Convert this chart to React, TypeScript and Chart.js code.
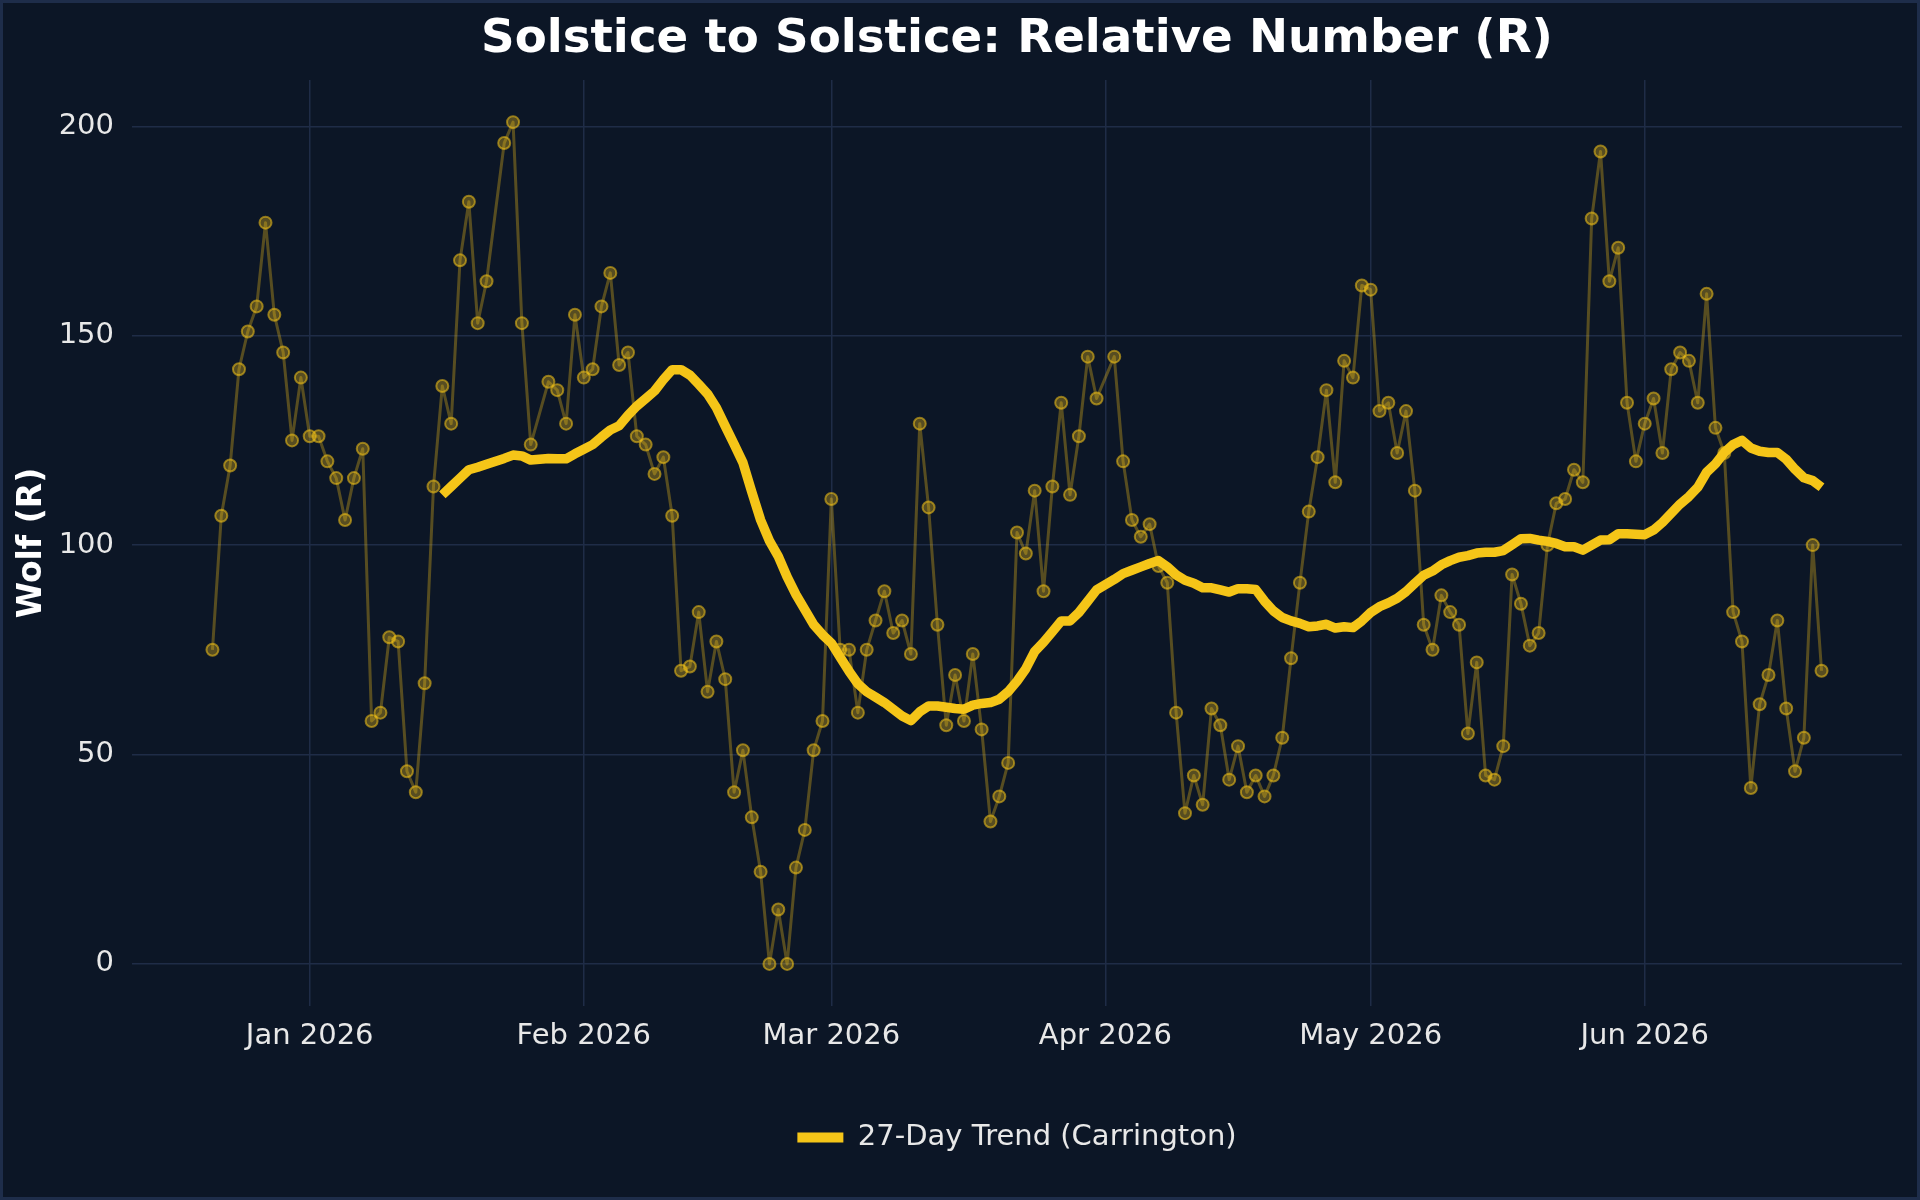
import React, { useEffect, useRef } from 'react';
import { Chart, registerables } from 'chart.js';

Chart.register(...registerables);

// Daily relative sunspot number (R). One array per month, null = no report that day.
const decR = [75, 107, 119, 142, 151, 157, 177, 155, 146, 125, 140]; // Dec 21-31, 2025
const janR = [126, 126, 120, 116, 106, 116, 123, 58, 60, 78, 77, 46, 41, 67, 114, 138, 129, 168, 182, 153, 163, null, 196, 201, 153, 124, null, 139, 137, 129, 155];
const febR = [140, 142, 157, 165, 143, 146, 126, 124, 117, 121, 107, 70, 71, 84, 65, 77, 68, 41, 51, 35, 22, 0, 13, 0, 23, 32, 51, 58];
const marR = [111, 75, 75, 60, 75, 82, 89, 79, 82, 74, 129, 109, 81, 57, 69, 58, 74, 56, 34, 40, 48, 103, 98, 113, 89, 114, 134, 112, 126, 145, 135];
const aprR = [null, 145, 120, 106, 102, 105, 95, 91, 60, 36, 45, 38, 61, 57, 44, 52, 41, 45, 40, 45, 54, 73, 91, 108, 121, 137, 115, 144, 140, 162];
const mayR = [161, 132, 134, 122, 132, 113, 81, 75, 88, 84, 81, 55, 72, 45, 44, 52, 93, 86, 76, 79, 100, 110, 111, 118, 115, 178, 194, 163, 171, 134, 120];
const junR = [129, 135, 122, 142, 146, 144, 134, 160, 128, 122, 84, 77, 42, 62, 69, 82, 61, 46, 54, 100, 70]; // Jun 1-21

// 27-day (Carrington) trend, starts Jan 16
const janTrend = [112, 114, 116, 118, 118.6, 119.3, null, 120.7, 121.5, 121.3, 120.3, null, 120.7, 120.6, 120.6, 121.8];
const febTrend = [122.9, 124, 125.8, 127.5, 128.5, 131, 133.2, 135, 136.8, 139.5, 141.9, 141.9, 140.6, 138.4, 136.1, 132.8, 128.4, 124.1, 119.7, 112.7, 106, 101, 97.3, 92.4, 88.2, 84.6, 81, 78.6];
const marTrend = [76.6, 73.2, 69.9, 66.9, 65, 63.7, 62.4, 60.8, 59.2, 58.1, 60.2, 61.6, 61.6, 61.3, 61, 60.8, 61.8, 62.2, 62.4, 63.2, 65, 67.5, 70.5, 74.6, 76.8, 79.3, 81.9, 81.9, 83.9, 86.6, 89.3];
const aprTrend = [null, 91.8, 93.2, 94, 94.8, 95.6, 96.3, 94.8, 92.9, 91.6, 90.9, 89.8, 89.8, 89.3, 88.8, 89.6, 89.6, 89.4, 86.6, 84.3, 82.7, 81.9, 81.3, 80.5, 80.7, 81.1, 80.2, 80.5, 80.3, 81.9];
const mayTrend = [83.9, 85.3, 86.2, 87.3, 88.9, 90.9, 92.8, 93.8, 95.3, 96.3, 97.1, 97.5, 98.1, 98.3, 98.3, 98.7, 100.1, 101.5, 101.6, 101.2, 100.9, 100.4, 99.6, 99.6, 98.8, 100, 101.2, 101.3, 102.7, 102.7, 102.6];
const junTrend = [102.5, 103.6, 105.4, 107.6, 109.8, 111.6, 113.8, 117.4, 119.4, 122.1, 124, 125, 123.2, 122.4, 122.1, 122.1, 120.5, 118.1, 116.1, 115.4, 113.8];

// day number of the 1st of each month, counted from Jan 1 2026
const monthStart = { dec: -31, jan: 0, feb: 31, mar: 59, apr: 90, may: 120, jun: 151 };
const tickDays = [0, 31, 59, 90, 120, 151];
const tickLabels = ['Jan 2026', 'Feb 2026', 'Mar 2026', 'Apr 2026', 'May 2026', 'Jun 2026'];

const TREND = '#f5c518';
const FONT = "'DejaVu Sans', sans-serif";

const toPoints = (parts: [number, number, (number | null)[]][]) =>
  parts.flatMap(([start, firstDay, vals]) =>
    vals.map((v, i) => ({ x: start + firstDay - 1 + i, y: v }))
  );

const rawPoints = toPoints([
  [monthStart.dec, 21, decR],
  [monthStart.jan, 1, janR],
  [monthStart.feb, 1, febR],
  [monthStart.mar, 1, marR],
  [monthStart.apr, 1, aprR],
  [monthStart.may, 1, mayR],
  [monthStart.jun, 1, junR],
]);

const trendPoints = toPoints([
  [monthStart.jan, 16, janTrend],
  [monthStart.feb, 1, febTrend],
  [monthStart.mar, 1, marTrend],
  [monthStart.apr, 1, aprTrend],
  [monthStart.may, 1, mayTrend],
  [monthStart.jun, 1, junTrend],
]);

const App: React.FC = () => {
  const canvasRef = useRef<HTMLCanvasElement | null>(null);

  useEffect(() => {
    document.body.style.margin = '0';
    if (!canvasRef.current) return;

    const chart = new Chart(canvasRef.current, {
      type: 'line',
      data: {
        datasets: [
          {
            label: '27-Day Trend (Carrington)',
            data: trendPoints,
            borderColor: TREND,
            backgroundColor: TREND,
            borderWidth: 9.5,
            borderJoinStyle: 'round',
            pointRadius: 0,
            spanGaps: true,
            tension: 0,
            order: 0,
          },
          {
            label: 'Daily R',
            data: rawPoints,
            borderColor: 'rgba(245, 197, 24, 0.32)',
            borderWidth: 3,
            borderJoinStyle: 'round',
            pointRadius: 6,
            pointBackgroundColor: 'rgba(245, 197, 24, 0.32)',
            pointBorderColor: 'rgba(245, 197, 24, 0.55)',
            pointBorderWidth: 2,
            spanGaps: true,
            tension: 0,
            order: 1,
          },
        ],
      },
      options: {
        responsive: false,
        devicePixelRatio: 1,
        animation: false,
        layout: { padding: { left: 0, right: 15, top: 0, bottom: 35 } },
        plugins: {
          title: {
            display: true,
            text: 'Solstice to Solstice: Relative Number (R)',
            color: '#ffffff',
            fullSize: false,
            font: { family: FONT, size: 46.7, weight: 'bold' },
            padding: { top: 9, bottom: 12 },
          },
          legend: {
            position: 'bottom',
            fullSize: false,
            labels: {
              color: '#e8e8e8',
              font: { family: FONT, size: 29 },
              boxWidth: 46,
              boxHeight: 10,
              padding: 17,
              generateLabels: (c: any) =>
                Chart.defaults.plugins.legend.labels
                  .generateLabels(c)
                  .filter((l: any) => l.datasetIndex === 0)
                  .map((l: any) => ({ ...l, fillStyle: TREND, strokeStyle: TREND, lineWidth: 0 })),
            },
          },
          tooltip: { enabled: false },
        },
        scales: {
          x: {
            type: 'linear',
            min: -20.1,
            max: 180.1,
            afterBuildTicks: (s: any) => {
              s.ticks = tickDays.map((v) => ({ value: v }));
            },
            afterFit: (s: any) => {
              s.height = 100;
            },
            ticks: {
              autoSkip: false,
              maxRotation: 0,
              padding: 13,
              color: '#e8e8e8',
              font: { family: FONT, size: 29 },
              callback: (v: any) => tickLabels[tickDays.indexOf(Number(v))],
            },
            grid: { color: '#1f2c47', lineWidth: 1.5, drawTicks: false },
            border: { display: false },
          },
          y: {
            min: -10.05,
            max: 211.05,
            afterFit: (s: any) => {
              s.width = 129;
            },
            ticks: {
              stepSize: 50,
              includeBounds: false,
              padding: 18,
              color: '#e8e8e8',
              font: { family: FONT, size: 29 },
            },
            title: {
              display: true,
              text: 'Wolf (R)',
              color: '#ffffff',
              font: { family: FONT, size: 33, weight: 'bold' },
              padding: { top: 9.5, bottom: 0 },
            },
            grid: { color: '#1f2c47', lineWidth: 1.5, drawTicks: false },
            border: { display: false },
          },
        },
      },
    });

    return () => chart.destroy();
  }, []);

  return (
    <div
      style={{
        width: 1920,
        height: 1200,
        boxSizing: 'border-box',
        border: '3px solid #1e2d4a',
        background: '#0c1626',
      }}
    >
      <canvas ref={canvasRef} width={1914} height={1194} style={{ display: 'block' }} />
    </div>
  );
};

export default App;
